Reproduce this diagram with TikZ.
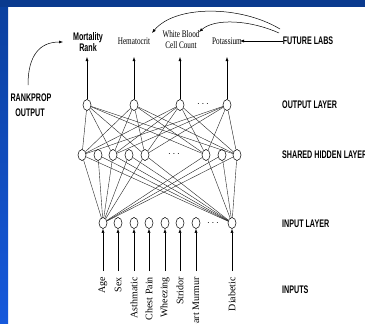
\documentclass[tikz,border=0pt]{standalone}
\usepackage{fontspec}
\usetikzlibrary{shapes.geometric,arrows.meta}
\newfontfamily\labfont[FakeStretch=0.65,UprightFont=* Bold]{Liberation Sans}
\newfontfamily\serfont[FakeStretch=0.72]{Liberation Serif}
\newfontfamily\rotfont{Liberation Serif}
\definecolor{barnavy}{HTML}{0A3A8E}
\definecolor{bartop}{HTML}{0B409E}
\definecolor{barbot}{HTML}{1659DC}
\begin{document}
\begin{tikzpicture}[x=1pt,y=-1pt,
  neuron/.style={ellipse,draw,line width=0.5pt,minimum width=8pt,minimum height=11pt,inner sep=0pt},
  wire/.style={line width=0.4pt,black!85},
  arr/.style={-{Latex[length=4pt,width=3pt]},line width=0.5pt},
  caps/.style={font=\labfont\fontsize{11}{11}\selectfont,inner sep=0pt,align=center},
  lab/.style={font=\serfont\fontsize{10}{11}\selectfont,inner sep=0pt,align=center},
  inlab/.style={font=\rotfont\fontsize{10}{11}\selectfont,inner sep=0pt,rotate=90,anchor=east},
  dots/.style={inner sep=0pt,font=\fontsize{10}{10}\selectfont}]
\useasboundingbox (0,0) rectangle (365,324);
% page frame
\fill[white] (0,0) rectangle (365,324);
\shade[top color=bartop,bottom color=barbot] (0,0) rectangle (8,324);
\fill[barnavy] (0,0) rectangle (365,7);

% output layer
\foreach \n/\x in {1/87,2/134,3/180,4/227} \node[neuron] (o\n) at (\x,105) {};
\node[dots] (od) at (203,104) {$\cdots$};
% shared hidden layer
\foreach \n/\x in {1/82,2/98,3/113,4/129,5/145,6/206,7/222,8/237} \node[neuron] (h\n) at (\x,155) {};
\node[dots] (hd) at (174,154) {$\cdots$};
% input layer
\foreach \n/\x in {1/103,2/118,3/134,4/149,5/165,6/180,7/196,8/232} \node[neuron] (i\n) at (\x,223) {};
\node[dots] (id) at (213,223) {$\cdots$};

% weights
\foreach \o in {1,...,4} \foreach \h in {1,3,5,6,8} \draw[wire] (o\o) -- (h\h);
\foreach \h in {1,...,8} \foreach \i in {1,8} \draw[wire] (h\h) -- (i\i);

% task labels
\node[caps] (mr) at (88,42) {Mortality\\Rank};
\node[lab] (hem) at (134,41) {Hematocrit};
\node[lab] (wbc) at (181,40) {White Blood\\Cell Count};
\node[lab] (pot) at (227,41) {Potassium};
\node[caps] (fl) at (308,41) {FUTURE LABS};
\foreach \n/\x in {1/87,2/134,3/180,4/227} {
  \coordinate (ot\n) at (\x,57);
  \draw[arr] (o\n) -- (ot\n);
}
\draw[arr] (fl.west) -- ([xshift=-2pt]pot.east);
\coordinate (fa) at (280,29);
\coordinate (fb) at (279,33);
\coordinate (hemtip) at (152,33);
\coordinate (wbctip) at (199,32);
\draw[arr] (fa) .. controls (240,5) and (175,5) .. (hemtip);
\draw[arr] (fb) .. controls (250,20) and (215,18) .. (wbctip);

% rankprop
\node[caps] (rp) at (31,98) {RANKPROP};
\node[caps] (rpo) at (30,113) {OUTPUT};
\coordinate (rps) at (28,85);
\coordinate (rpe) at (63,42);
\draw[arr] (rps) .. controls (28,55) and (40,42) .. (rpe);

% layer names
\node[caps,anchor=west] (lo) at (282,105) {OUTPUT LAYER};
\node[caps,anchor=west] (lh) at (282,155) {SHARED HIDDEN LAYER};
\node[caps,anchor=west] (li) at (282,224) {INPUT LAYER};
\node[caps,anchor=west] (lin) at (282,290) {INPUTS};

% input features
\foreach \n/\x/\t in {1/103/Age,2/118/Sex,3/134/Asthmatic,4/149/Chest Pain,5/165/Wheezing,6/180/Stridor,7/196/Heart Murmur,8/232/Diabetic} {
  \coordinate (ia\n) at (\x,271);
  \draw[arr] (ia\n) -- (i\n);
  \node[inlab] (f\n) at (\x,277) {\t};
}
\end{tikzpicture}
\end{document}
